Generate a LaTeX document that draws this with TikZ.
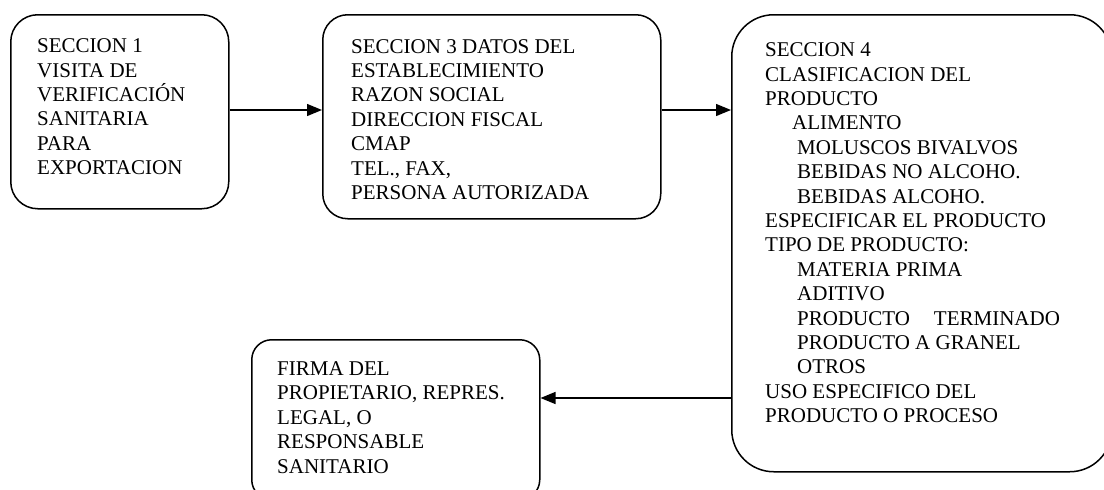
\documentclass[tikz,border=0pt]{standalone}
\usepackage{fontspec}
\setmainfont{Liberation Serif}
\usetikzlibrary{arrows.meta}
\tikzset{
  box/.style={draw, line width=1.5pt, anchor=north west, inner sep=0pt},
  txt/.style={anchor=north west, inner sep=0pt, align=left,
    font=\fontsize{21}{24.4}\selectfont},
  conn/.style={line width=1.3pt, -{Triangle[length=15pt,width=12pt]}}
}
\begin{document}
\begin{tikzpicture}[x=1pt,y=-1pt]
\useasboundingbox (0,0) rectangle (1104,490);
\clip (0,0) rectangle (1104,490);
% boxes
\node[box, rounded corners=27pt, minimum width=218pt, minimum height=194pt] (b1) at (10,14) {};
\node[box, rounded corners=25pt, minimum width=338pt, minimum height=204pt] (b2) at (322,14) {};
\node[box, rounded corners=42pt, minimum width=380pt, minimum height=457pt] (b3) at (731,14) {};
\node[box, rounded corners=20pt, minimum width=288pt, minimum height=160pt] (b4) at (251,339) {};
% texts
\node[txt] (t1) at (37,38.5) {SECCION 1\\VISITA DE\\VERIFICACIÓN\\SANITARIA\\PARA\\EXPORTACION};
\node[txt] (t2) at (351,39) {SECCION 3 DATOS DEL\\ESTABLECIMIENTO\\RAZON SOCIAL\\DIRECCION FISCAL\\CMAP\\TEL., FAX,\\PERSONA AUTORIZADA};
\node[txt] (t3) at (765,42.5) {SECCION 4\\CLASIFICACION DEL\\PRODUCTO\\
\hspace*{27pt}ALIMENTO\\
\hspace*{32pt}MOLUSCOS BIVALVOS\\
\hspace*{32pt}BEBIDAS NO ALCOHO.\\
\hspace*{32pt}BEBIDAS ALCOHO.\\
ESPECIFICAR EL PRODUCTO\\
TIPO DE PRODUCTO:\\
\hspace*{32pt}MATERIA PRIMA\\
\hspace*{32pt}ADITIVO\\
\hspace*{32pt}PRODUCTO\hspace{24pt}TERMINADO\\
\hspace*{32pt}PRODUCTO A GRANEL\\
\hspace*{32pt}OTROS\\
USO ESPECIFICO DEL\\
PRODUCTO O PROCESO};
\node[txt] (t4) at (277,361.5) {FIRMA DEL\\PROPIETARIO, REPRES.\\LEGAL, O\\RESPONSABLE\\SANITARIO};
% connectors
\draw[conn] (b1.east |- 0,110) -- (b2.west |- 0,110);
\draw[conn] (b2.east |- 0,110) -- (b3.west |- 0,110);
\draw[conn] (b3.west |- 0,398) -- (b4.east |- 0,398);
\end{tikzpicture}
\end{document}
